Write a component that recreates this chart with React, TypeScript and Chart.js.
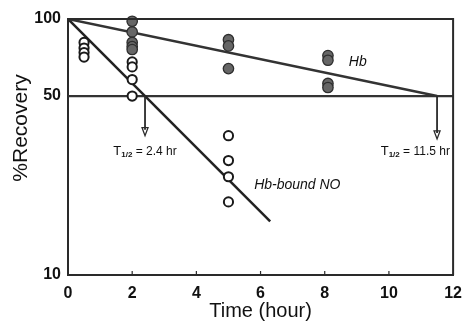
import React, { useEffect, useRef } from "react";
import { Chart, registerables } from "chart.js";

Chart.register(...registerables);

// ---- data ----
const hbTime = [2, 2, 2, 2, 2, 5, 5, 5, 8.1, 8.1, 8.1, 8.1];
const hbRecovery = [98, 89, 81, 78, 76, 83, 78.5, 64, 72, 69, 56, 54];
const noTime = [0.5, 0.5, 0.5, 0.5, 2, 2, 2, 2, 5, 5, 5, 5];
const noRecovery = [81, 77, 74, 71, 68, 65, 58, 50, 35, 28, 24.2, 19.3];
const hbFitTime = [0, 11.5];
const hbFitRecovery = [100, 50];
const noFitTime = [0, 6.3];
const noFitRecovery = [100, 16.2];
const halfLineTime = [0, 12];
const halfLineRecovery = [50, 50];
const halfLifeTimes = [2.4, 11.5];
const halfLifeArrowEnds = [35, 34];
const halfLifeTexts = [" = 2.4 hr", " = 11.5 hr"];
const xTickValues = [0, 2, 4, 6, 8, 10, 12];
const yTickValues = [10, 50, 100];

const zip = (xs: number[], ys: number[]) => xs.map((x, i) => ({ x, y: ys[i] }));

const FONT = "Arial, 'Liberation Sans', Helvetica, sans-serif";
const INK = "#2a2a2a";

const decorPlugin = {
  id: "decor",
  afterDatasetsDraw(chart: any) {
    const ctx = chart.ctx as CanvasRenderingContext2D;
    const xs = chart.scales.x;
    const ys = chart.scales.y;
    const a = chart.chartArea;
    ctx.save();
    // frame (top and right)
    ctx.strokeStyle = INK;
    ctx.lineWidth = 2;
    ctx.beginPath();
    ctx.moveTo(a.left, a.top);
    ctx.lineTo(a.right, a.top);
    ctx.lineTo(a.right, a.bottom);
    ctx.stroke();
    // inward x tick marks
    ctx.lineWidth = 1.2;
    xTickValues.slice(1, -1).forEach((v) => {
      const px = xs.getPixelForValue(v);
      ctx.beginPath();
      ctx.moveTo(px, a.bottom);
      ctx.lineTo(px, a.bottom - 4);
      ctx.stroke();
    });
    // half-life arrows
    halfLifeTimes.forEach((t, i) => {
      const px = xs.getPixelForValue(t);
      const y0 = ys.getPixelForValue(50);
      const y1 = ys.getPixelForValue(halfLifeArrowEnds[i]);
      ctx.lineWidth = 1.8;
      ctx.beginPath();
      ctx.moveTo(px, y0);
      ctx.lineTo(px, y1 - 6);
      ctx.stroke();
      ctx.lineWidth = 1.3;
      ctx.beginPath();
      ctx.moveTo(px - 3, y1 - 8);
      ctx.lineTo(px + 3, y1 - 8);
      ctx.lineTo(px, y1);
      ctx.closePath();
      ctx.stroke();
    });
    // half-life labels
    const drawHalf = (text: string, x: number, y: number, align: "center" | "right") => {
      ctx.fillStyle = "#111";
      ctx.textBaseline = "alphabetic";
      ctx.textAlign = "left";
      const fT = `13px ${FONT}`;
      const fS = `bold 8px ${FONT}`;
      const fR = `12px ${FONT}`;
      ctx.font = fT;
      const wT = ctx.measureText("T").width;
      ctx.font = fS;
      const wS = ctx.measureText("1/2").width;
      ctx.font = fR;
      const wR = ctx.measureText(text).width;
      const total = wT + wS + wR;
      let sx = align === "center" ? x - total / 2 : x - total;
      ctx.font = fT;
      ctx.fillText("T", sx, y);
      sx += wT;
      ctx.font = fS;
      ctx.fillText("1/2", sx, y + 2);
      sx += wS;
      ctx.font = fR;
      ctx.fillText(text, sx, y);
    };
    drawHalf(halfLifeTexts[0], xs.getPixelForValue(halfLifeTimes[0]), ys.getPixelForValue(29.5), "center");
    drawHalf(halfLifeTexts[1], xs.getPixelForValue(11.9), ys.getPixelForValue(29.5), "right");
    // series labels
    ctx.font = `italic 14px ${FONT}`;
    ctx.textAlign = "left";
    ctx.textBaseline = "middle";
    ctx.fillText("Hb", xs.getPixelForValue(8.75), ys.getPixelForValue(68));
    ctx.fillText("Hb-bound NO", xs.getPixelForValue(5.8), ys.getPixelForValue(22.5));
    // y title
    ctx.save();
    ctx.translate(21, 128);
    ctx.rotate(-Math.PI / 2);
    ctx.textAlign = "center";
    ctx.textBaseline = "middle";
    ctx.font = `21px ${FONT}`;
    ctx.fillStyle = "#111";
    ctx.fillText("%Recovery", 0, 0);
    ctx.restore();
    ctx.restore();
  },
};

export default function App() {
  const ref = useRef<HTMLCanvasElement | null>(null);
  useEffect(() => {
    if (!ref.current) return;
    const chart = new Chart(ref.current, {
      type: "scatter",
      data: {
        datasets: [
          {
            label: "Hb",
            data: zip(hbTime, hbRecovery),
            pointRadius: 5.2,
            pointBackgroundColor: "#666666",
            pointBorderColor: "#2e2e2e",
            pointBorderWidth: 1.3,
            showLine: false,
            clip: false,
            order: 1,
          } as any,
          {
            label: "Hb-bound NO",
            data: zip(noTime, noRecovery),
            pointRadius: 4.6,
            pointBackgroundColor: "#ffffff",
            pointBorderColor: "#1a1a1a",
            pointBorderWidth: 2,
            showLine: false,
            clip: false,
            order: 0,
          } as any,
          {
            label: "Hb fit",
            data: zip(hbFitTime, hbFitRecovery),
            showLine: true,
            pointRadius: 0,
            borderColor: "#333333",
            borderWidth: 2.5,
            order: 5,
          } as any,
          {
            label: "NO fit",
            data: zip(noFitTime, noFitRecovery),
            showLine: true,
            pointRadius: 0,
            borderColor: "#222222",
            borderWidth: 2.5,
            order: 5,
          } as any,
          {
            label: "50%",
            data: zip(halfLineTime, halfLineRecovery),
            showLine: true,
            pointRadius: 0,
            borderColor: "#333333",
            borderWidth: 2.2,
            order: 6,
          } as any,
        ],
      },
      options: {
        animation: false,
        responsive: false,
        events: [],
        layout: { padding: { left: 0, top: 19, right: 9, bottom: 0 } },
        plugins: { legend: { display: false }, tooltip: { enabled: false } },
        scales: {
          x: {
            type: "linear",
            min: 0,
            max: 12,
            afterBuildTicks: (s: any) => {
              s.ticks = xTickValues.map((v) => ({ value: v }));
            },
            afterFit: (s: any) => {
              s.height = 49;
            },
            grid: { display: false, drawTicks: false },
            border: { display: true, color: INK, width: 2 },
            ticks: {
              padding: 9,
              color: "#111",
              font: { family: FONT, size: 16, weight: "bold" },
              callback: (v: any) => String(v),
            },
            title: {
              display: true,
              text: "Time (hour)",
              color: "#111",
              font: { family: FONT, size: 20 },
              padding: { top: 0, bottom: 1 },
            },
          },
          y: {
            type: "logarithmic",
            min: 10,
            max: 100,
            afterBuildTicks: (s: any) => {
              s.ticks = yTickValues.map((v) => ({ value: v }));
            },
            afterFit: (s: any) => {
              s.width = 68;
            },
            grid: { display: false, drawTicks: false },
            border: { display: true, color: INK, width: 2 },
            ticks: {
              padding: 7,
              color: "#111",
              font: { family: FONT, size: 16, weight: "bold" },
              callback: (v: any) => String(v),
            },
          },
        },
      } as any,
      plugins: [decorPlugin],
    });
    return () => chart.destroy();
  }, []);
  return (
    <div style={{ position: "fixed", left: 0, top: 0, width: 471, height: 324, background: "#fff" }}>
      <canvas ref={ref} width={471} height={324} style={{ display: "block" }} />
    </div>
  );
}
